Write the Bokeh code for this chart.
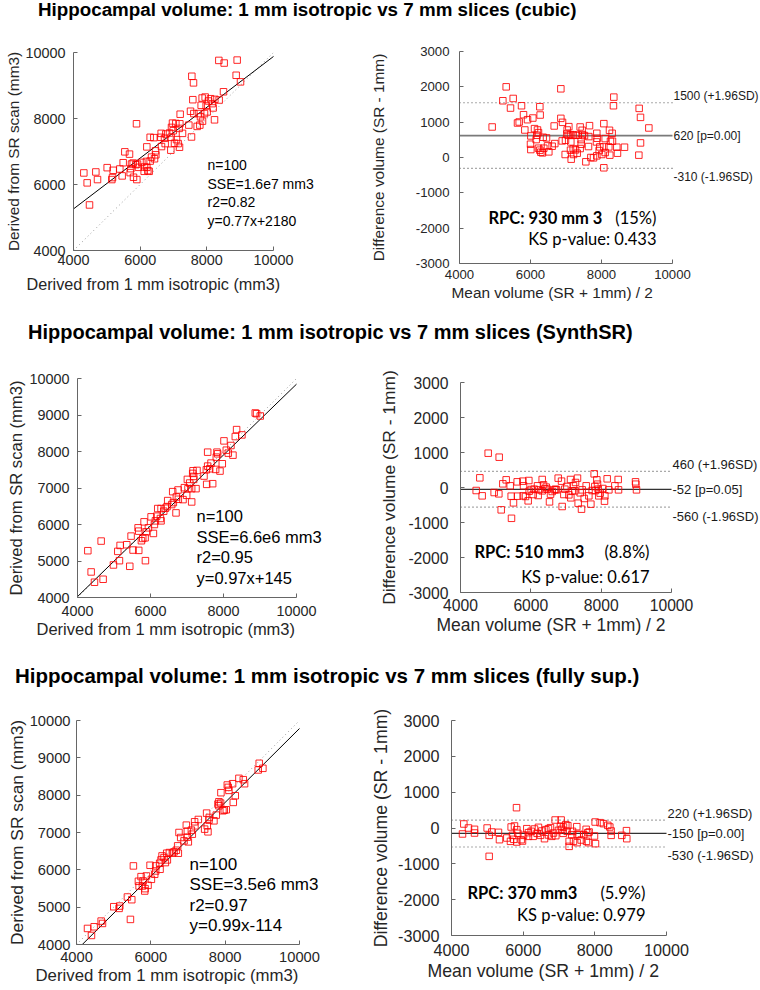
from bokeh.plotting import figure
from bokeh.models import Label, FixedTicker, Div, Range1d, Title
from bokeh.layouts import column, row
from bokeh.embed import file_html
from bokeh.resources import INLINE

# ---------------- data ----------------
titles = ["Hippocampal volume: 1 mm isotropic vs 7 mm slices (cubic)",
          "Hippocampal volume: 1 mm isotropic vs 7 mm slices (SynthSR)",
          "Hippocampal volume: 1 mm isotropic vs 7 mm slices (fully sup.)"]

cubic_iso = [8360, 8520, 8910, 8880, 9010, 7550, 7600, 8500, 7950, 7860, 8110, 8240, 8370, 7580, 8050, 7830, 7980, 8160,
             7510, 7610, 7750, 7930, 8010, 7200, 8230, 7810, 7870, 7710, 7790, 7460, 6970, 7070, 5890, 7190, 6940, 7170,
             6880, 6990, 7270, 6630, 6770, 6300, 6410, 6620, 6730, 6930, 7540, 7090, 6750, 7030, 7140, 6640, 6920, 7180,
             6200, 5540, 5680, 6470, 6430, 6300, 6190, 5490, 5790, 5870, 5920, 6050, 5740, 5010, 5190, 5390, 5720, 5950,
             6200, 6270, 6120, 5700, 5460, 5800, 5900, 5150, 5170, 4720, 4310, 4670, 4410, 4480, 6460, 6340, 6130, 6230, 8190]
cubic_sr = [9760, 9680, 9770, 9310, 9110, 9280, 9080, 8810, 8650, 8620, 8600, 8580, 8560, 8570, 8530, 8400, 8380, 8450,
            8220, 8150, 8150, 8150, 8200, 8130, 7960, 8050, 7920, 7760, 7800, 7800, 7860, 7850, 7840, 7840, 7730, 7700,
            7560, 7630, 7550, 7550, 7530, 7430, 7420, 7430, 7400, 7430, 7440, 7360, 7240, 7250, 7240, 7150, 7040, 7130,
            7140, 6990, 6920, 6900, 6780, 6710, 6700, 6660, 6650, 6600, 6620, 6670, 6620, 6510, 6430, 6470, 6480, 6520,
            6520, 6400, 6400, 6360, 6260, 6220, 6150, 6150, 6210, 6150, 6350, 6380, 6050, 5380, 7020, 6830, 6530, 6420, 8320]
cubic_mean = [5315, 6855, 5221, 5512, 5437, 5747, 6263, 6272, 5803, 5916, 6066, 5634, 5681, 4920, 6855, 6902, 6667, 5840,
              6113, 6197, 6225, 6010, 6160, 6357, 6451, 6179, 6000, 6010, 6225, 6291, 6338, 6263, 6375, 6479, 6516, 6610,
              6685, 7033, 7080, 7024, 6986, 6892, 7061, 7127, 7202, 7277, 7343, 7399, 7455, 7465, 7521, 7427, 7427, 7399,
              7136, 7127, 7202, 6977, 7146, 7212, 7268, 7315, 7559, 7662, 7634, 7878, 7868, 7859, 8066, 8225, 8300, 8253,
              8309, 8103, 7953, 7934, 8066, 8206, 8431, 8450, 8235, 8648, 8347, 8337, 9061, 9099, 9334, 9099, 9052, 8066,
              7700, 7775, 7868, 8009, 8103, 7643]
cubic_diff = [2000, 1944, 1606, 1671, 1399, 1465, 1437, 1202, 1211, 1070, 1117, 976, 1005, 864, 1108, 995, 892, 779,
              817, 779, 704, 610, 507, 573, 554, 629, 376, 225, 263, 150, 131, 207, 263, 329, 160, 319, 394, 779, 873,
              667, 488, 470, 629, 648, 639, 629, 629, 864, 770, 648, 620, 507, 376, 254, 441, 207, 244, 85, -47, 85,
              216, 122, -122, 901, 310, 545, 685, 441, 958, 770, 685, 460, 460, 535, 300, 197, 300, 300, 291, 122, 66,
              291, 1709, 1465, 1390, 1136, 836, 413, 66, -291, 0, -9, 47, 85, 141, 592]

synth_iso = [8870, 8907, 9007, 8359, 8323, 8505, 8204, 8013, 8077, 8131, 8259, 7821, 7840, 7803, 7566, 7967, 7904, 7785,
             7566, 7530, 7621, 7658, 7466, 7703, 7539, 7165, 7274, 7183, 7183, 7010, 7074, 7247, 7128, 7028, 6928, 6991,
             7128, 6754, 6608, 6708, 6763, 6626, 6581, 6453, 6408, 6699, 6198, 6289, 6362, 6170, 6271, 6134, 6289, 6107,
             5824, 6080, 5660, 5678, 5943, 5888, 5751, 5788, 5852, 5468, 5350, 5167, 5104, 4648, 4283, 5523, 5678, 5149,
             4985, 5432, 5861, 4374, 4465, 4702, 6016, 7156, 6471, 6891]
synth_sr = [9055, 9036, 8973, 8600, 8409, 8455, 8164, 8291, 8036, 7955, 7900, 7982, 7937, 7846, 7982, 7664, 7464, 7509,
            7600, 7500, 7527, 7682, 7327, 7118, 7100, 7473, 7482, 7318, 7236, 7236, 7136, 6982, 6982, 6982, 7009, 6800,
            6618, 6946, 6900, 6755, 6691, 6600, 6546, 6491, 6446, 6318, 6437, 6437, 6364, 6228, 6164, 6100, 6100, 6000,
            6073, 5755, 5909, 5818, 5909, 5800, 5555, 5618, 5636, 5682, 5446, 5427, 5264, 5546, 5282, 5300, 5291, 5009,
            4891, 4855, 5009, 4700, 4418, 4500, 6210, 7400, 6655, 6682]
synth_mean = [4787, 5100, 4550, 4446, 4616, 4957, 5090, 5157, 5204, 5299, 5413, 5441, 5507, 5612, 5621, 5773, 5792, 5782,
              5849, 5943, 5952, 5924, 6067, 6190, 6228, 6209, 6323, 6361, 6399, 6437, 6465, 6531, 6560, 6673, 6702, 6730,
              6778, 6873, 6891, 6939, 6967, 7024, 7081, 7128, 7138, 7214, 7271, 7252, 7327, 7346, 7403, 7441, 7460, 7517,
              7574, 7650, 7707, 7744, 7801, 7820, 7877, 7896, 7915, 7933, 7972, 8048, 8105, 8095, 8171, 8219, 8389, 8484,
              8493, 8977, 8986, 9005, 6607, 6323, 6095, 7176, 7839, 6009, 5450]
synth_diff = [980, 866, 276, -86, -238, -143, -181, -638, 105, 219, 48, -248, -438, 162, -248, 181, 48, -238, -257, 200,
              -105, -381, -200, 48, -67, -229, 229, 76, -38, 10, -48, -410, -190, -67, -48, -67, 267, 181, -543, -200,
              -48, 29, -210, 229, -295, 48, 143, -95, 267, -448, -152, -619, -67, -314, 48, -238, -476, -86, 390, 29,
              219, 95, -48, -238, -162, -29, -238, -390, 248, -67, 48, 229, -67, 162, 95, -67, -114, -95, -48, -95,
              -86, -57, -880]

full_iso = [8916, 9015, 8889, 8370, 8487, 8522, 8200, 8057, 8083, 8101, 8272, 8218, 7886, 7832, 7806, 7877, 7832, 7940,
            7976, 8030, 7761, 7501, 7573, 7564, 7698, 7519, 7448, 7537, 7278, 7178, 7187, 7090, 6982, 6955, 7116, 6982,
            6758, 6803, 6893, 7009, 6722, 6687, 6624, 6740, 6499, 6427, 6355, 6275, 6391, 6237, 6131, 6131, 6248, 6104,
            6015, 5881, 5791, 5773, 5666, 5684, 5845, 5836, 5531, 5737, 5370, 5487, 5164, 5146, 5003, 5451, 4663, 4699,
            4475, 4296, 4403, 5979, 6302, 6579, 6445, 5925]
full_sr = [8854, 8719, 8675, 8451, 8415, 8307, 8307, 8272, 8209, 8128, 7985, 7806, 8066, 7824, 7761, 7788, 7716, 7582,
           7600, 7609, 7466, 7519, 7403, 7331, 7313, 7179, 7090, 7018, 7349, 7287, 7179, 7063, 7036, 7197, 6955, 6875,
           7000, 6866, 6776, 6749, 6642, 6525, 6481, 6445, 6463, 6445, 6328, 6266, 6194, 6176, 6105, 5970, 6015, 5881,
           5746, 5836, 5702, 5567, 5693, 5567, 5496, 5433, 6105, 5818, 5272, 5200, 5030, 4967, 5012, 4672, 4627, 4564,
           4475, 4430, 4242, 6122, 6373, 6445, 6266, 5585]
full_mean = [5814, 5051, 4344, 4307, 4474, 4642, 4642, 4995, 5051, 5125, 5311, 5339, 5544, 5646, 5665, 5758, 5702, 5739,
             5823, 5851, 5944, 5981, 6009, 6102, 6148, 6223, 6279, 6316, 6427, 6483, 6521, 6595, 6632, 6706, 6762, 6846,
             6892, 6911, 6985, 7060, 7041, 7079, 7116, 7125, 7190, 7246, 7283, 7283, 7357, 7404, 7497, 7506, 7506, 7618,
             7692, 7757, 7804, 7767, 7823, 7990, 8009, 8018, 8148, 8242, 8362, 8418, 8455, 8455, 8753, 8883, 8892, 6706,
             6390, 6799, 7376, 6148, 7562, 7841, 5823, 7227]
full_diff = [567, -791, 112, -167, 0, -37, -140, 0, -205, -112, -121, -326, -279, -372, 28, 56, -205, -316, -391, -149,
             -326, -363, -205, -19, -233, -93, -233, -28, 19, -205, -84, -298, -47, -195, 9, -140, 223, -214, -65, 223,
             47, -37, -149, 28, 93, 65, -372, -512, -186, -372, 37, -186, -409, -335, -186, -37, -130, -372, -409, -223,
             167, -437, 149, 121, 74, 28, -84, -205, -205, -74, -298, -19, -149, -233, -93, -130, -177, -112, -47, -93]

fit_slope = [0.77, 0.97, 0.99]
fit_intercept = [2180, 145, -114]
stats_text = [["n=100", "SSE=1.6e7 mm3", "r2=0.82", "y=0.77x+2180"],
              ["n=100", "SSE=6.6e6 mm3", "r2=0.95", "y=0.97x+145"],
              ["n=100", "SSE=3.5e6 mm3", "r2=0.97", "y=0.99x-114"]]
bias = [620, -52, -150]
loa_upper = [1550, 460, 220]
loa_lower = [-310, -560, -530]
bias_text = ["620 [p=0.00]", "-52 [p=0.05]", "-150 [p=0.00]"]
upper_text = ["1500 (+1.96SD)", "460 (+1.96SD)", "220 (+1.96SD)"]
lower_text = ["-310 (-1.96SD)", "-560 (-1.96SD)", "-530 (-1.96SD)"]
rpc_text = ["RPC: 930 mm 3", "RPC: 510 mm3", "RPC: 370 mm3"]
rpc_pct = ["(15%)", "(8.8%)", "(5.9%)"]
ks_text = ["KS p-value: 0.433", "KS p-value: 0.617", "KS p-value: 0.979"]

x_ticks = [4000, 6000, 8000, 10000]
y_ticks_scatter = [[4000, 6000, 8000, 10000],
                   [4000, 5000, 6000, 7000, 8000, 9000, 10000],
                   [4000, 5000, 6000, 7000, 8000, 9000, 10000]]
y_ticks_ba = [-3000, -2000, -1000, 0, 1000, 2000, 3000]

scatter_x = [cubic_iso, synth_iso, full_iso]
scatter_y = [cubic_sr, synth_sr, full_sr]
ba_x = [cubic_mean, synth_mean, full_mean]
ba_y = [cubic_diff, synth_diff, full_diff]

# ---------------- styling / geometry ----------------
SANS = "Liberation Sans"
CAL = "Lato"
RED = "#ff0000"
WL, WR = 362, 398

row_h = [280, 292, 293]
left_geo = [dict(l=73, fw=200, t=22, b=60, tick_fs="14.4px", lab_fs="15.4px", xlab_fs="16.2px", tso=8, xso=4,
                 yals=0, xoff=-47, xst=12, stat_x=8020, stat_y=[6606, 6030, 5464, 4909], fs="14px"),
            dict(l=77, fw=219, t=20, b=53, tick_fs="14.4px", lab_fs="16.6px", xlab_fs="16.5px", tso=8, xso=8,
                 yals=0, xoff=-41, xst=1, stat_x=7260, stat_y=[6246, 5671, 5104, 4539], fs="16.5px"),
            dict(l=76, fw=223, t=23, b=46, tick_fs="14.7px", lab_fs="17.4px", xlab_fs="16.8px", tso=6, xso=7,
                 yals=0, xoff=-41, xst=0, stat_x=7040, stat_y=[6149, 5597, 5050, 4498], fs="17px")]
right_geo = [dict(l=97, fw=213, t=21, b=47, tick_fs="13.2px", lab_fs="15.4px", xlab_fs="15.4px", tso=10, xso=6,
                  yals=26, xoff=-8, xst=2, side_fs="12px", rpc_l=4817, pct_r=9549, rpc_y=-1726, ks_y=-2320,
                  mean_col="#7a7a7a", mean_w=1.6),
             dict(l=98, fw=211, t=24, b=58, tick_fs="15.7px", lab_fs="17.4px", xlab_fs="17.5px", tso=12, xso=6,
                  yals=6, xoff=-24, xst=0, side_fs="13px", rpc_l=4398, pct_r=9375, rpc_y=-1848, ks_y=-2543,
                  mean_col="#333333", mean_w=1.2),
             dict(l=89, fw=215, t=23, b=55, tick_fs="16.2px", lab_fs="17.7px", xlab_fs="17.7px", tso=12, xso=8,
                  yals=4, xoff=-24, xst=2, side_fs="13px", rpc_l=4446, pct_r=9413, rpc_y=-1818, ks_y=-2421,
                  mean_col="#333333", mean_w=1.2)]
title_geo = [dict(h=30, pl=38, pt=0, fs="18.8px"),
             dict(h=48, pl=28, pt=12, fs="20px"),
             dict(h=47, pl=15, pt=16, fs="20.5px")]


def style_axes(p, g, xticks, yticks, xlabel, ylabel):
    p.xaxis.ticker = FixedTicker(ticks=xticks)
    p.yaxis.ticker = FixedTicker(ticks=yticks)
    p.xaxis.major_label_overrides = {t: str(t) for t in xticks}
    p.yaxis.major_label_overrides = {t: str(t) for t in yticks}
    p.xaxis.bounds = (xticks[0], xticks[-1])
    p.yaxis.axis_label = ylabel
    for ax in (p.xaxis[0], p.yaxis[0]):
        ax.axis_line_color = "#666666"
        ax.axis_line_width = 1
        ax.major_tick_line_color = "#666666"
        ax.major_tick_in = 4
        ax.major_tick_out = 0
        ax.minor_tick_line_color = None
        ax.major_label_text_font = SANS
        ax.major_label_text_font_size = g["tick_fs"]
        ax.major_label_text_color = "#262626"
        ax.axis_label_text_font = SANS
        ax.axis_label_text_font_size = g["lab_fs"]
        ax.axis_label_text_font_style = "normal"
        ax.axis_label_text_color = "#262626"
    p.xaxis.major_label_standoff = g["xso"]
    p.yaxis.major_label_standoff = g["tso"]
    p.yaxis.axis_label_standoff = g["yals"]
    p.xgrid.grid_line_color = None
    p.ygrid.grid_line_color = None
    p.outline_line_color = None
    # x-axis label as a "below" title so it can be shifted like the original
    p.add_layout(Title(text=xlabel, align="left", offset=g["xoff"], standoff=g["xst"], vertical_align="middle",
                       text_font=SANS, text_font_size=g["xlab_fs"], text_font_style="normal",
                       text_color="#262626"), "below")


def x_end(width, g):
    # frame reaches the right edge of the figure; 10000 keeps its place on screen
    return 4000 + 6000.0 * (width - g["l"]) / g["fw"]


def base_figure(width, i, g, yr):
    p = figure(width=width, height=row_h[i], output_backend="svg", toolbar_location=None,
               min_border_left=g["l"], min_border_right=0, min_border_top=g["t"], min_border_bottom=g["b"],
               x_range=Range1d(4000, x_end(width, g)), y_range=Range1d(*yr))
    p.frame_align = False
    return p


def make_scatter(i):
    g = left_geo[i]
    p = base_figure(WL, i, g, (4000, 10000))
    style_axes(p, g, x_ticks, y_ticks_scatter[i], "Derived from 1 mm isotropic (mm3)", "Derived from SR scan (mm3)")
    p.line([4000, 10000], [4000, 10000], line_color="#9a9a9a", line_dash="1 3", line_width=1)
    lx = [4000, 10000]
    ly = [fit_slope[i] * v + fit_intercept[i] for v in lx]
    p.line(lx, ly, line_color="black", line_width=1)
    p.scatter(scatter_x[i], scatter_y[i], marker="square", size=6.5, line_color=RED, line_alpha=0.85,
              fill_color=None, line_width=1)
    for txt, yy in zip(stats_text[i], g["stat_y"]):
        p.add_layout(Label(x=g["stat_x"], y=yy, text=txt, text_font=SANS, text_font_size=g["fs"],
                           text_baseline="middle", text_align="left", text_color="black"))
    return p


def make_ba(i):
    g = right_geo[i]
    p = base_figure(WR, i, g, (-3000, 3000))
    style_axes(p, g, x_ticks, y_ticks_ba, "Mean volume (SR + 1mm) / 2", "Difference volume (SR - 1mm)")
    p.line([4000, 10000], [loa_upper[i], loa_upper[i]], line_color="#555555", line_dash="1 3", line_width=1.2)
    p.line([4000, 10000], [loa_lower[i], loa_lower[i]], line_color="#555555", line_dash="1 3", line_width=1.2)
    p.line([4000, 10000], [bias[i], bias[i]], line_color=g["mean_col"], line_width=g["mean_w"])
    p.scatter(ba_x[i], ba_y[i], marker="square", size=6.5, line_color=RED, line_alpha=0.85,
              fill_color=None, line_width=1)
    for txt, yy, off in ((upper_text[i], loa_upper[i], 7), (bias_text[i], bias[i], 0), (lower_text[i], loa_lower[i], -9)):
        p.add_layout(Label(x=10000, y=yy, x_offset=1, y_offset=off, text=txt, text_font=SANS,
                           text_font_size=g["side_fs"], text_baseline="middle", text_align="left",
                           text_color="#1a1a1a"))
    p.add_layout(Label(x=g["rpc_l"], y=g["rpc_y"], text=rpc_text[i], text_font=CAL, text_font_style="bold",
                       text_font_size="16.5px", text_baseline="middle", text_align="left", text_color="black"))
    p.add_layout(Label(x=g["pct_r"], y=g["rpc_y"], text=rpc_pct[i], text_font=CAL,
                       text_font_size="16.5px", text_baseline="middle", text_align="right", text_color="black"))
    p.add_layout(Label(x=g["pct_r"], y=g["ks_y"], text=ks_text[i], text_font=CAL,
                       text_font_size="16.5px", text_baseline="middle", text_align="right", text_color="black"))
    return p


items = []
for i in range(3):
    tg = title_geo[i]
    html = ("<div style=\"font-family:'Liberation Sans',Arial,sans-serif;font-weight:bold;font-size:%s;"
            "line-height:20px;padding-left:%dpx;padding-top:%dpx;color:#000;white-space:nowrap;\">%s</div>"
            % (tg["fs"], tg["pl"], tg["pt"], titles[i]))
    items.append(Div(text=html, width=WL + WR, height=tg["h"], margin=0))
    items.append(row(make_scatter(i), make_ba(i), spacing=0))

layout = column(*items, spacing=0)
open("out.html", "w").write(file_html(layout, INLINE))
